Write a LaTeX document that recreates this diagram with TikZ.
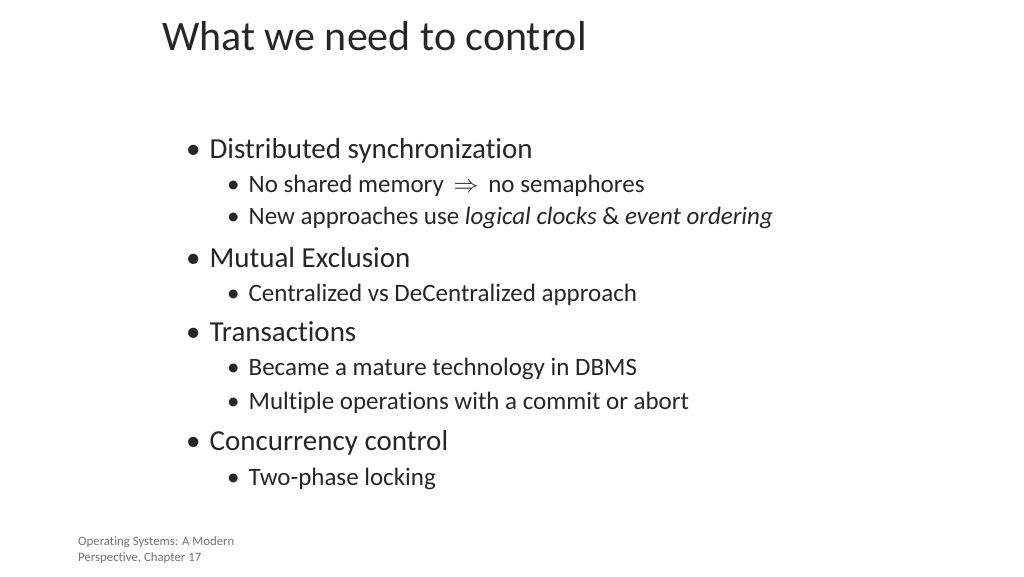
\documentclass[tikz,border=0pt]{standalone}
\usepackage{fontspec}
\setmainfont{Carlito}[Ligatures={NoCommon,NoRequired,NoContextual}]
\begin{document}
\begin{tikzpicture}[x=1pt,y=-1pt,
  ttl/.style={anchor=base west,inner sep=0pt,font=\fontsize{42}{48}\selectfont,text=black!85},
  lvone/.style={anchor=base west,inner sep=0pt,font=\fontsize{29}{34}\selectfont,text=black!85},
  lvtwo/.style={anchor=base west,inner sep=0pt,font=\fontsize{25}{30}\selectfont,text=black!85},
  foot/.style={anchor=base west,inner sep=0pt,font=\fontsize{12.8}{15}\selectfont,text=black!55}]
\useasboundingbox (0,0) rectangle (1024,576);
\node[ttl] (t) at (162,50) {What we need to control};
\node[lvone] (a) at (186,158) {•\hspace{9pt}Distributed synchronization};
\node[lvtwo] (a1) at (227,192) {•\hspace{9pt}No shared memory \,$\Rightarrow$\, no semaphores};
\node[lvtwo] (a2) at (227,224) {•\hspace{9pt}New approaches use \textit{logical clocks} \& \textit{event ordering}};
\node[lvone] (b) at (186,267) {•\hspace{9pt}Mutual Exclusion};
\node[lvtwo] (b1) at (227,301) {•\hspace{9pt}Centralized vs DeCentralized approach};
\node[lvone] (c) at (186,341) {•\hspace{9pt}Transactions};
\node[lvtwo] (c1) at (227,375) {•\hspace{9pt}Became a mature technology in DBMS};
\node[lvtwo] (c2) at (227,409) {•\hspace{9pt}Multiple operations with a commit or abort};
\node[lvone] (d) at (186,450) {•\hspace{9pt}Concurrency control};
\node[lvtwo] (d1) at (227,485) {•\hspace{9pt}Two-phase locking};
\node[foot] (f1) at (78,545) {Operating Systems: A Modern};
\node[foot] (f2) at (78,561) {Perspective, Chapter 17};
\end{tikzpicture}
\end{document}
